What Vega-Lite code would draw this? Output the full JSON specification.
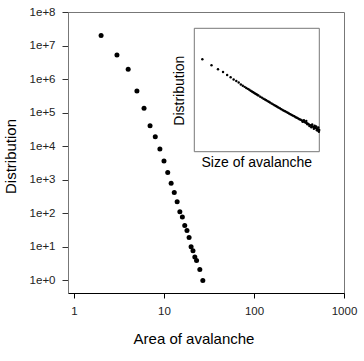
{
  "$schema": "https://vega.github.io/schema/vega-lite/v6.json",
  "width": 276,
  "height": 281,
  "autosize": {"type": "none"},
  "padding": {"left": 68, "top": 12, "right": 20, "bottom": 68},
  "background": "white",
  "config": {
    "font": "Liberation Sans",
    "view": {"stroke": "#777", "strokeWidth": 1},
    "axis": {"grid": false}
  },
  "datasets": {
    "main": [
      {"area": 2, "distribution": 20000000},
      {"area": 3, "distribution": 5200000},
      {"area": 4, "distribution": 1960000},
      {"area": 5, "distribution": 440000},
      {"area": 6, "distribution": 135000},
      {"area": 7, "distribution": 41000},
      {"area": 8, "distribution": 19300},
      {"area": 9, "distribution": 8300},
      {"area": 10, "distribution": 3650},
      {"area": 11, "distribution": 1640},
      {"area": 12, "distribution": 790},
      {"area": 13, "distribution": 416},
      {"area": 14, "distribution": 220},
      {"area": 15, "distribution": 111},
      {"area": 16, "distribution": 77},
      {"area": 17, "distribution": 43},
      {"area": 18, "distribution": 31},
      {"area": 19, "distribution": 19},
      {"area": 20, "distribution": 10},
      {"area": 21, "distribution": 7.7},
      {"area": 22, "distribution": 5},
      {"area": 23, "distribution": 3.9},
      {"area": 25, "distribution": 2.1},
      {"area": 27, "distribution": 1}
    ],
    "inset": [
      {"size": 2, "count": 100000},
      {"size": 3, "count": 76900},
      {"size": 4, "count": 64500},
      {"size": 5, "count": 57000},
      {"size": 6, "count": 49900},
      {"size": 7, "count": 45200},
      {"size": 8, "count": 41000},
      {"size": 9, "count": 38200},
      {"size": 10, "count": 35800},
      {"size": 11, "count": 32700},
      {"size": 12, "count": 31000},
      {"size": 13, "count": 29500},
      {"size": 14, "count": 28100},
      {"size": 15, "count": 27000},
      {"size": 16, "count": 25900},
      {"size": 17, "count": 24900},
      {"size": 18, "count": 24000},
      {"size": 19, "count": 23300},
      {"size": 20, "count": 22500},
      {"size": 21, "count": 21800},
      {"size": 22, "count": 21200},
      {"size": 23, "count": 20600},
      {"size": 24, "count": 20100},
      {"size": 26, "count": 19100},
      {"size": 28, "count": 18300},
      {"size": 30, "count": 17500},
      {"size": 32, "count": 16900},
      {"size": 34, "count": 16300},
      {"size": 36, "count": 15700},
      {"size": 38, "count": 15200},
      {"size": 40, "count": 14800},
      {"size": 43, "count": 14100},
      {"size": 46, "count": 13600},
      {"size": 49, "count": 13100},
      {"size": 52, "count": 12600},
      {"size": 55, "count": 12200},
      {"size": 58, "count": 11800},
      {"size": 62, "count": 11400},
      {"size": 66, "count": 11000},
      {"size": 70, "count": 10600},
      {"size": 74, "count": 10300},
      {"size": 78, "count": 10000},
      {"size": 83, "count": 9700},
      {"size": 88, "count": 9400},
      {"size": 93, "count": 9100},
      {"size": 99, "count": 8800},
      {"size": 105, "count": 8500},
      {"size": 111, "count": 8250},
      {"size": 118, "count": 8000},
      {"size": 125, "count": 7700},
      {"size": 132, "count": 7500},
      {"size": 140, "count": 7250},
      {"size": 148, "count": 7050},
      {"size": 156, "count": 6850},
      {"size": 165, "count": 6650},
      {"size": 170, "count": 6300},
      {"size": 175, "count": 6400},
      {"size": 180, "count": 6700},
      {"size": 185, "count": 6250},
      {"size": 195, "count": 6050},
      {"size": 200, "count": 6500},
      {"size": 205, "count": 5900},
      {"size": 210, "count": 5650},
      {"size": 215, "count": 5750},
      {"size": 225, "count": 5600},
      {"size": 230, "count": 5200},
      {"size": 240, "count": 5400},
      {"size": 250, "count": 4950},
      {"size": 255, "count": 5230},
      {"size": 260, "count": 5600},
      {"size": 270, "count": 5070},
      {"size": 280, "count": 4600},
      {"size": 285, "count": 4920},
      {"size": 290, "count": 5300},
      {"size": 300, "count": 4790},
      {"size": 310, "count": 5100},
      {"size": 315, "count": 4660},
      {"size": 320, "count": 4300},
      {"size": 330, "count": 4540},
      {"size": 335, "count": 4250},
      {"size": 340, "count": 4900},
      {"size": 345, "count": 4440},
      {"size": 350, "count": 4050},
      {"size": 355, "count": 4370}
    ]
  },
  "layer": [
    {
      "data": {"name": "main"},
      "mark": {"type": "circle", "size": 25, "color": "black", "opacity": 1},
      "encoding": {
        "x": {
          "field": "area",
          "type": "quantitative",
          "scale": {"type": "log", "domain": [0.8577, 1000], "nice": false},
          "axis": {
            "title": "Area of avalanche",
            "values": [1, 10, 100, 1000],
            "labelExpr": "format(datum.value, 'd')",
            "labelFlush": false,
            "labelFontSize": 11.5,
            "labelColor": "#222",
            "labelPadding": 7,
            "tickSize": 5,
            "tickColor": "black",
            "domainColor": "black",
            "titleFontSize": 15,
            "titleFontWeight": "normal",
            "titleColor": "black",
            "titleX": 125.5,
            "titleY": 45,
            "titleAlign": "center",
            "titleBaseline": "middle"
          }
        },
        "y": {
          "field": "distribution",
          "type": "quantitative",
          "scale": {"type": "log", "domain": [0.4217, 100000000], "nice": false},
          "axis": {
            "title": "Distribution",
            "values": [1, 10, 100, 1000, 10000, 100000, 1000000, 10000000, 100000000],
            "labelExpr": "'1e+' + round(log(datum.value) / LN10)",
            "labelFlush": false,
            "labelFontSize": 11.5,
            "labelColor": "#222",
            "labelPadding": 7,
            "tickSize": 6,
            "tickColor": "#333",
            "domainColor": "#777",
            "titleFontSize": 15,
            "titleFontWeight": "normal",
            "titleColor": "black",
            "titleX": -58,
            "titleY": 144,
            "titleAngle": 270,
            "titleAlign": "center",
            "titleBaseline": "middle"
          }
        }
      }
    },
    {
      "layer": [
        {
          "data": {"values": [{}]},
          "mark": {"type": "rect", "fill": null, "stroke": "#777", "strokeWidth": 1},
          "encoding": {
            "x": {"datum": 1.4, "type": "quantitative"},
            "x2": {"datum": 356},
            "y": {"datum": 1671, "type": "quantitative"},
            "y2": {"datum": 394500}
          }
        },
        {
          "data": {"values": [{}]},
          "mark": {"type": "text", "fontSize": 14, "color": "black", "align": "center", "baseline": "middle"},
          "encoding": {
            "x": {"datum": 22.32, "type": "quantitative"},
            "y": {"datum": 1014, "type": "quantitative"},
            "text": {"value": "Size of avalanche"}
          }
        },
        {
          "data": {"values": [{}]},
          "mark": {"type": "text", "fontSize": 14, "color": "black", "align": "center", "baseline": "middle", "angle": 270},
          "encoding": {
            "x": {"datum": 0.743, "type": "quantitative"},
            "y": {"datum": 24900, "type": "quantitative"},
            "text": {"value": "Distribution"}
          }
        },
        {
          "data": {"name": "inset"},
          "mark": {"type": "circle", "size": 6, "color": "black", "opacity": 1},
          "encoding": {
            "x": {"field": "size", "type": "quantitative"},
            "y": {"field": "count", "type": "quantitative"}
          }
        }
      ],
      "encoding": {
        "x": {
          "type": "quantitative",
          "scale": {"type": "log", "domain": [1.4, 356], "range": [126.3, 251.3], "nice": false},
          "axis": null
        },
        "y": {
          "type": "quantitative",
          "scale": {"type": "log", "domain": [1671, 394500], "range": [139.7, 16.3], "nice": false},
          "axis": null
        }
      }
    }
  ],
  "resolve": {
    "scale": {"x": "independent", "y": "independent"},
    "axis": {"x": "independent", "y": "independent"}
  }
}
